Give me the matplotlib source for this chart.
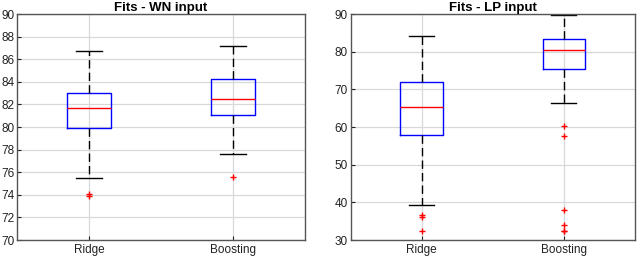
import matplotlib.pyplot as plt

plt.rcParams['font.family'] = ['Liberation Sans', 'DejaVu Sans']

labels = ['Ridge', 'Boosting']

# WN input: [whislo, q1, med, q3, whishi]
wn_ridge = [75.5, 79.9, 81.7, 83.0, 86.7]
wn_boost = [77.6, 81.1, 82.5, 84.3, 87.2]
wn_ridge_out = [74.1, 73.9]
wn_boost_out = [75.6]

# LP input
lp_ridge = [39.2, 58.0, 65.3, 72.0, 84.3]
lp_boost = [66.4, 75.3, 80.6, 83.5, 89.8]
lp_ridge_out = [36.6, 36.0, 32.3]
lp_boost_out = [60.4, 57.6, 37.9, 34.0, 32.5, 32.3]


def make_stats(vals, out, label):
    lo, q1, med, q3, hi = vals
    return dict(whislo=lo, q1=q1, med=med, q3=q3, whishi=hi, fliers=out, label=label)


def draw(ax, stats, title, ylim, yticks):
    ax.bxp(stats, positions=[1, 2], widths=0.3, capwidths=0.175,
           boxprops=dict(color='blue', linewidth=1.0),
           medianprops=dict(color='red', linewidth=1.0),
           whiskerprops=dict(color='black', linestyle=(0, (6, 3)), linewidth=1.0),
           capprops=dict(color='black', linewidth=1.0),
           flierprops=dict(marker='+', markeredgecolor='red', markersize=4, markeredgewidth=1.0,
                           linestyle='none'))
    ax.set_xlim(0.5, 2.5)
    ax.set_ylim(*ylim)
    ax.set_yticks(yticks)
    ax.set_xticks([1, 2])
    ax.set_xticklabels(labels)
    ax.grid(True, color='#d8d8d8', linewidth=0.9)
    ax.set_axisbelow(True)
    ax.tick_params(direction='in', length=3, labelsize=8.5, colors='#222222', pad=2)
    ax.tick_params(axis='x', pad=2.5)
    for s in ax.spines.values():
        s.set_color('#555555')
        s.set_linewidth(1.0)
    ax.set_title(title, fontsize=9.5, fontweight='bold', pad=2)


fig = plt.figure(figsize=(6.4, 2.57), dpi=100)
ax1 = fig.add_axes([0.0266, 0.066, 0.45, 0.879])
ax2 = fig.add_axes([0.548, 0.066, 0.444, 0.879])

draw(ax1, [make_stats(wn_ridge, wn_ridge_out, 'Ridge'), make_stats(wn_boost, wn_boost_out, 'Boosting')],
     'Fits - WN input', (70, 90), range(70, 91, 2))
draw(ax2, [make_stats(lp_ridge, lp_ridge_out, 'Ridge'), make_stats(lp_boost, lp_boost_out, 'Boosting')],
     'Fits - LP input', (30, 90), range(30, 91, 10))

fig.savefig('out.png', dpi=100)
